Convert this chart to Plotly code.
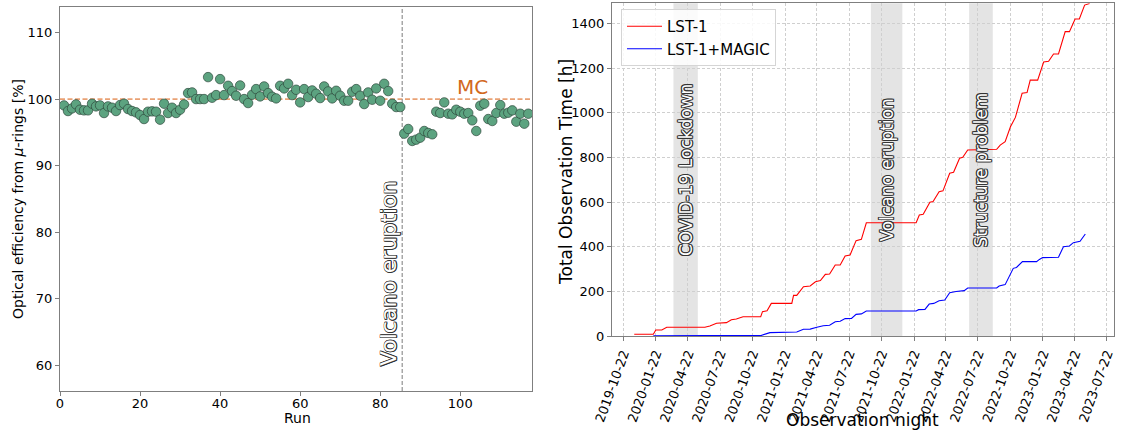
import plotly.graph_objects as go

# ---------------- data: left panel ----------------
efficiency = [99.05, 98.2, 98.6, 99.2, 98.4, 98.3, 98.3, 99.3, 98.9, 99.05,
              97.9, 98.9, 98.7, 98.2, 99.1, 99.3, 98.5, 98.2, 98.0, 97.6,
              97.0, 98.1, 98.15, 98.1, 96.9, 99.3, 97.9, 98.7, 97.9, 98.4,
              99.2, 100.9, 101.0, 100.0, 100.0, 100.0, 103.3, 100.2, 100.6, 103.0,
              100.6, 102.0, 101.2, 100.5, 102.05, 100.0, 99.4, 100.65, 101.5, 100.4,
              101.9, 100.9, 100.35, 100.1, 102.0, 101.6, 102.3, 100.6, 101.4, 99.5,
              101.5, 100.3, 101.3, 100.8, 100.15, 101.9, 101.15, 100.1, 101.25, 100.5,
              99.75, 99.75, 101.1, 101.5, 100.5, 99.25, 101.0, 99.9, 101.6, 99.75,
              102.3, 101.2, 99.3, 98.8, 98.8, 94.8, 95.5, 93.7, 93.9, 94.2,
              95.2, 94.9, 94.7, 98.1, 97.9, 99.5, 97.8, 97.7, 98.4, 98.1,
              97.8, 97.9, 96.8, 95.2, 99.0, 99.3, 97.0, 96.7, 97.9, 99.1,
              97.8, 97.95, 98.3, 96.6, 97.8, 96.3, 97.8]
runs = list(range(1, len(efficiency) + 1))
mc_value = 100
volcano_run = 85.5
left_xticks = [0, 20, 40, 60, 80, 100]
left_yticks = [60, 70, 80, 90, 100, 110]

# ---------------- data: right panel ----------------
lst1_dates = ["2019-11-22", "2020-01-15", "2020-01-22", "2020-02-08", "2020-02-22", "2020-06-09",
              "2020-06-23", "2020-07-12", "2020-08-09", "2020-08-23", "2020-09-06", "2020-09-25",
              "2020-11-14", "2020-11-19", "2020-12-02", "2020-12-14", "2021-02-10", "2021-02-15",
              "2021-02-24", "2021-03-15", "2021-04-03", "2021-04-18", "2021-05-02", "2021-05-16",
              "2021-05-28", "2021-06-13", "2021-06-27", "2021-07-11", "2021-07-25", "2021-08-11",
              "2021-08-26", "2021-09-09", "2022-01-28", "2022-02-06", "2022-02-17", "2022-03-08",
              "2022-03-17", "2022-04-03", "2022-04-14", "2022-05-03", "2022-05-14", "2022-05-31",
              "2022-06-09", "2022-06-23", "2022-09-13", "2022-09-23", "2022-10-07", "2022-10-22",
              "2022-11-05", "2022-11-24", "2022-12-08", "2022-12-17", "2023-01-07", "2023-01-24",
              "2023-02-07", "2023-02-21", "2023-03-07", "2023-03-26", "2023-04-07", "2023-04-23",
              "2023-05-05", "2023-05-20", "2023-06-03"]
lst1_hours = [8, 8, 27, 27, 39, 39, 45, 57, 60, 73, 76, 86, 86, 109, 113, 146, 146, 182, 182, 221,
              224, 243, 248, 276, 278, 318, 318, 358, 363, 427, 433, 507, 507, 542, 545, 599, 602,
              646, 650, 729, 733, 796, 800, 833, 836, 855, 870, 937, 979, 1087, 1090, 1146, 1146,
              1227, 1230, 1263, 1263, 1363, 1363, 1420, 1420, 1482, 1489]

magic_dates = ["2020-01-15", "2020-11-16", "2020-12-10", "2021-02-05", "2021-02-24", "2021-03-15",
               "2021-04-03", "2021-04-22", "2021-05-10", "2021-05-28", "2021-06-13", "2021-06-27",
               "2021-07-11", "2021-07-29", "2021-08-11", "2021-08-26", "2021-09-09", "2022-01-28",
               "2022-02-04", "2022-02-22", "2022-03-06", "2022-03-19", "2022-04-03", "2022-04-19",
               "2022-05-03", "2022-05-21", "2022-06-13", "2022-06-23", "2022-09-13", "2022-09-20",
               "2022-10-07", "2022-10-30", "2022-11-08", "2022-11-25", "2023-01-04", "2023-01-12",
               "2023-01-21", "2023-03-07", "2023-03-21", "2023-04-07", "2023-04-18", "2023-05-07",
               "2023-05-22"]
magic_hours = [1, 3, 15, 15, 18, 30, 31, 39, 46, 48, 64, 66, 78, 79, 97, 99, 112, 112, 118, 119,
               143, 146, 158, 161, 194, 199, 203, 215, 215, 224, 230, 303, 307, 333, 333, 343, 351,
               353, 400, 403, 418, 424, 457]

band_labels = ["COVID-19 Lockdown", "Volcano eruption", "Structure problem"]
band_starts = ["2020-03-12", "2021-09-22", "2022-06-27"]
band_ends = ["2020-05-20", "2021-12-20", "2022-09-02"]
band_mids = ["2020-04-15", "2021-11-06", "2022-07-30"]

date_ticks = ["2019-10-22", "2020-01-22", "2020-04-22", "2020-07-22", "2020-10-22", "2021-01-22",
              "2021-04-22", "2021-07-22", "2021-10-22", "2022-01-22", "2022-04-22", "2022-07-22",
              "2022-10-22", "2023-01-22", "2023-04-22", "2023-07-22"]
right_yticks = [0, 200, 400, 600, 800, 1000, 1200, 1400]

# ---------------- figure ----------------
W, H = 1123, 432
FONT = "DejaVu Sans"
SPINE = "#7f7f7f"
OUTLINE = ("0.8px 0.8px 0 #333, -0.8px -0.8px 0 #333, 0.8px -0.8px 0 #333, -0.8px 0.8px 0 #333, "
           "0 0.8px 0 #333, 0 -0.8px 0 #333, 0.8px 0 0 #333, -0.8px 0 0 #333")

fig = go.Figure()

fig.add_trace(go.Scatter(
    x=runs, y=efficiency, mode="markers", showlegend=False,
    marker=dict(size=9.5, color="rgb(92,163,128)",
                line=dict(color="rgba(45,70,58,0.85)", width=0.8)),
    xaxis="x", yaxis="y"))

fig.add_trace(go.Scatter(
    x=lst1_dates, y=lst1_hours, mode="lines", name="LST-1",
    line=dict(color="#ff0000", width=1.1), xaxis="x2", yaxis="y2"))
fig.add_trace(go.Scatter(
    x=magic_dates, y=magic_hours, mode="lines", name="LST-1+MAGIC",
    line=dict(color="#0000ff", width=1.1), xaxis="x2", yaxis="y2"))

shapes = [
    dict(type="line", xref="x domain", yref="y", x0=0, x1=1, y0=mc_value, y1=mc_value,
         line=dict(color="rgba(226,130,70,0.75)", width=1.8, dash="5px,2.5px"), layer="below"),
    dict(type="line", xref="x", yref="y domain", x0=volcano_run, x1=volcano_run, y0=0, y1=1,
         line=dict(color="#9a9a9a", width=1.3, dash="4px,2px"), layer="below"),
]
for s, e in zip(band_starts, band_ends):
    shapes.append(dict(type="rect", xref="x2", yref="y2 domain", x0=s, x1=e, y0=0, y1=1,
                       fillcolor="rgba(190,190,190,0.42)", line=dict(width=0), layer="below"))

annotations = [
    dict(text="MC", x=103, y=mc_value, xref="x", yref="y", xanchor="center", yanchor="bottom",
         showarrow=False, yshift=-2, font=dict(family=FONT, size=20, color="#d2691e")),
    dict(text="Volcano eruption", x=volcano_run, y=59.5, xref="x", yref="y", textangle=-90,
         xanchor="right", yanchor="bottom", showarrow=False, xshift=1,
         font=dict(family=FONT, size=22, color="white", shadow=OUTLINE)),
    dict(text="Optical efficiency from <i>μ</i>-rings [%]", x=18 / W, y=1 - 199 / H,
         xref="paper", yref="paper", textangle=-90, showarrow=False,
         xanchor="center", yanchor="middle", font=dict(family=FONT, size=14, color="black")),
    dict(text="Run", x=297 / W, y=1 - 418 / H, xref="paper", yref="paper", showarrow=False,
         xanchor="center", yanchor="middle", font=dict(family=FONT, size=14, color="black")),
    dict(text="Total Observation Time [h]", x=566 / W, y=1 - 172 / H, xref="paper", yref="paper",
         textangle=-90, showarrow=False, xanchor="center", yanchor="middle",
         font=dict(family=FONT, size=17, color="black")),
    dict(text="Observation night", x=862 / W, y=1 - 420 / H, xref="paper", yref="paper",
         showarrow=False, xanchor="center", yanchor="middle",
         font=dict(family=FONT, size=17, color="black")),
]
for lab, mid in zip(band_labels, band_mids):
    annotations.append(dict(text=lab, x=mid, y=745, xref="x2", yref="y2", textangle=-90,
                            showarrow=False, xanchor="center", yanchor="middle",
                            font=dict(family=FONT, size=17, color="white", shadow=OUTLINE)))

axis_common = dict(showline=True, linecolor=SPINE, linewidth=1, mirror=True,
                   ticks="outside", ticklen=4, tickcolor=SPINE, zeroline=False,
                   tickfont=dict(family=FONT, size=13, color="black"), automargin=False)

fig.update_layout(
    width=W, height=H, margin=dict(l=0, r=0, t=0, b=0),
    paper_bgcolor="white", plot_bgcolor="white",
    font=dict(family=FONT),
    xaxis=dict(domain=[60 / W, 532.3 / W], range=[0, 118], tickvals=left_xticks,
               showgrid=False, anchor="y", ticklabelstandoff=-4, **axis_common),
    yaxis=dict(domain=[(H - 391) / H, (H - 7.3) / H], range=[56.1, 113.8], tickvals=left_yticks,
               showgrid=False, anchor="x", **axis_common),
    xaxis2=dict(domain=[612 / W, 1114.3 / W], range=["2019-09-20", "2023-08-12"], type="date",
                tickvals=date_ticks, ticktext=date_ticks, tickangle=-70,
                showgrid=True, gridcolor="#cfcfcf", gridwidth=0.8, griddash="3px,2px",
                anchor="y2", **axis_common),
    yaxis2=dict(domain=[(H - 336) / H, (H - 3.3) / H], range=[0, 1490], tickvals=right_yticks,
                showgrid=True, gridcolor="#cfcfcf", gridwidth=0.8, griddash="3px,2px",
                anchor="x2", **axis_common),
    legend=dict(x=621 / W, y=1 - 9 / H, xanchor="left", yanchor="top",
                bgcolor="rgba(255,255,255,0.85)", bordercolor="#d5d5d5", borderwidth=1,
                font=dict(family=FONT, size=15, color="black"), itemwidth=35),
    shapes=shapes, annotations=annotations,
)

fig.write_html("out.html", config={"displayModeBar": False},
               post_script="document.body.style.margin='0px';document.body.style.overflow='hidden';")
